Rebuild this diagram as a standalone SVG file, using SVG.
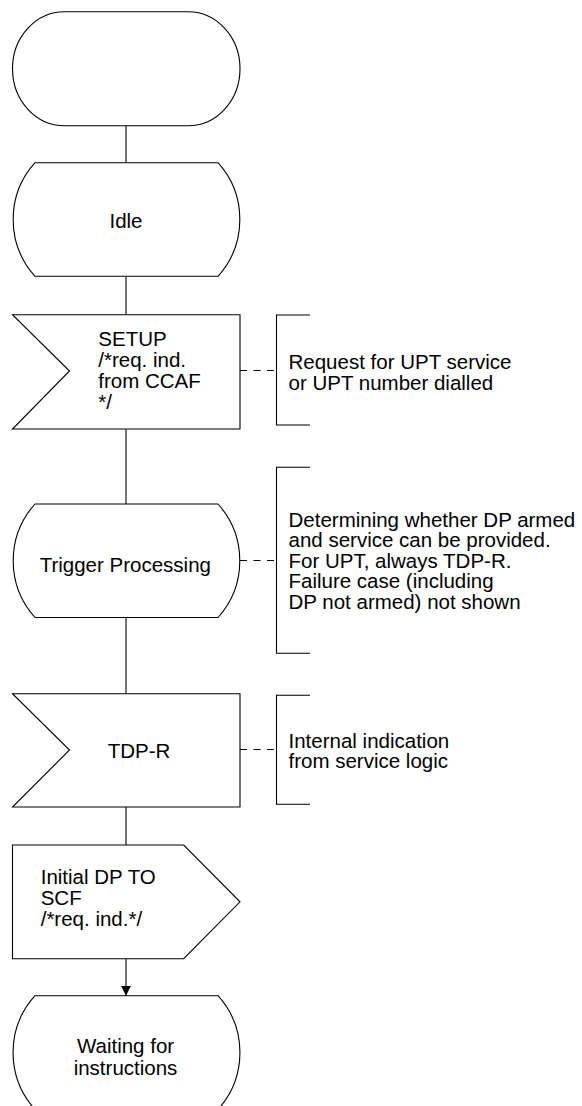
<svg xmlns="http://www.w3.org/2000/svg" width="582" height="1106" viewBox="0 0 582 1106">
<style>
.s{fill:#fff;stroke:#000;stroke-width:1.1}
.t{font-family:"Liberation Sans",Arial,sans-serif;font-size:20.5px;fill:#000}
.c{stroke:#000;stroke-width:1.1;fill:none}
.d{stroke:#000;stroke-width:1.1;fill:none;stroke-dasharray:7,6.5}
.b{stroke:#000;stroke-width:1.1;fill:none}
</style>
<defs>
<marker id="ah" markerWidth="11" markerHeight="10" refX="10" refY="5" orient="auto" markerUnits="userSpaceOnUse">
<path d="M0,0 L10,5 L0,10 Z" fill="#000"/>
</marker>
</defs>
<g id="connectors">
<line class="c" x1="126" y1="125.7" x2="126" y2="162.7"/>
<line class="c" x1="126" y1="276.3" x2="126" y2="314.7"/>
<line class="c" x1="126" y1="429" x2="126" y2="504"/>
<line class="c" x1="126" y1="617.5" x2="126" y2="693.7"/>
<line class="c" x1="126" y1="807" x2="126" y2="845"/>
<line class="c" x1="126" y1="958.7" x2="126" y2="995.7" marker-end="url(#ah)"/>
<line class="d" x1="240" y1="370.5" x2="276.5" y2="370.5"/>
<line class="d" x1="240" y1="560.5" x2="276.5" y2="560.5"/>
<line class="d" x1="240" y1="749.5" x2="276.5" y2="749.5"/>
</g>
<g id="start">
<rect class="s" x="12.5" y="11.7" width="227.5" height="114" rx="52" ry="57"/>
</g>
<g id="idle">
<path class="s" d="M35,162.7 L218,162.7 A84.8,84.8 0 0 1 218,276.3 L35,276.3 A84.8,84.8 0 0 1 35,162.7 Z"/>
<text class="t" x="126" y="227.7" text-anchor="middle">Idle</text>
</g>
<g id="setup">
<path class="s" d="M12.5,314.7 L240,314.7 L240,429 L12.5,429 L69.5,371 Z"/>
<text class="t" x="98.3"><tspan x="98.3" y="346">SETUP</tspan><tspan x="98.3" y="367">/*req. ind.</tspan><tspan x="98.3" y="388">from CCAF</tspan><tspan x="98.3" y="409">*/</tspan></text>
</g>
<g id="note-setup">
<path class="b" d="M310,315 L276.5,315 L276.5,425 L310,425"/>
<text class="t"><tspan x="288.5" y="369">Request for UPT service</tspan><tspan x="288.5" y="390">or UPT number dialled</tspan></text>
</g>
<g id="trigger">
<path class="s" d="M35,504 L218,504 A84.8,84.8 0 0 1 218,617.5 L35,617.5 A84.8,84.8 0 0 1 35,504 Z"/>
<text class="t" x="125.3" y="571.5" text-anchor="middle">Trigger Processing</text>
</g>
<g id="note-trigger">
<path class="b" d="M310,467.3 L276.5,467.3 L276.5,653.3 L310,653.3"/>
<text class="t"><tspan x="288.5" y="526.5">Determining whether DP armed</tspan><tspan x="288.5" y="547">and service can be provided.</tspan><tspan x="288.5" y="567.5">For UPT, always TDP-R.</tspan><tspan x="288.5" y="588">Failure case (including</tspan><tspan x="288.5" y="608.5">DP not armed) not shown</tspan></text>
</g>
<g id="tdpr">
<path class="s" d="M12.5,693.7 L240,693.7 L240,807 L12.5,807 L69.5,750 Z"/>
<text class="t" x="139" y="757.5" text-anchor="middle">TDP-R</text>
</g>
<g id="note-tdpr">
<path class="b" d="M310,695.3 L276.5,695.3 L276.5,804.3 L310,804.3"/>
<text class="t"><tspan x="288.5" y="747.5">Internal indication</tspan><tspan x="288.5" y="767.5">from service logic</tspan></text>
</g>
<g id="initialdp">
<path class="s" d="M12.5,845 L183.7,845 L240,901.8 L183.7,958.7 L12.5,958.7 Z"/>
<text class="t"><tspan x="40.7" y="884.3">Initial DP TO</tspan><tspan x="40.7" y="905">SCF</tspan><tspan x="40.7" y="925.5">/*req. ind.*/</tspan></text>
</g>
<g id="waiting">
<path class="s" d="M35,995.7 L218,995.7 A84.8,84.8 0 0 1 218,1109.5 L35,1109.5 A84.8,84.8 0 0 1 35,995.7 Z"/>
<text class="t" text-anchor="middle"><tspan x="125.5" y="1052.5">Waiting for</tspan><tspan x="125.5" y="1074.5">instructions</tspan></text>
</g>
</svg>
